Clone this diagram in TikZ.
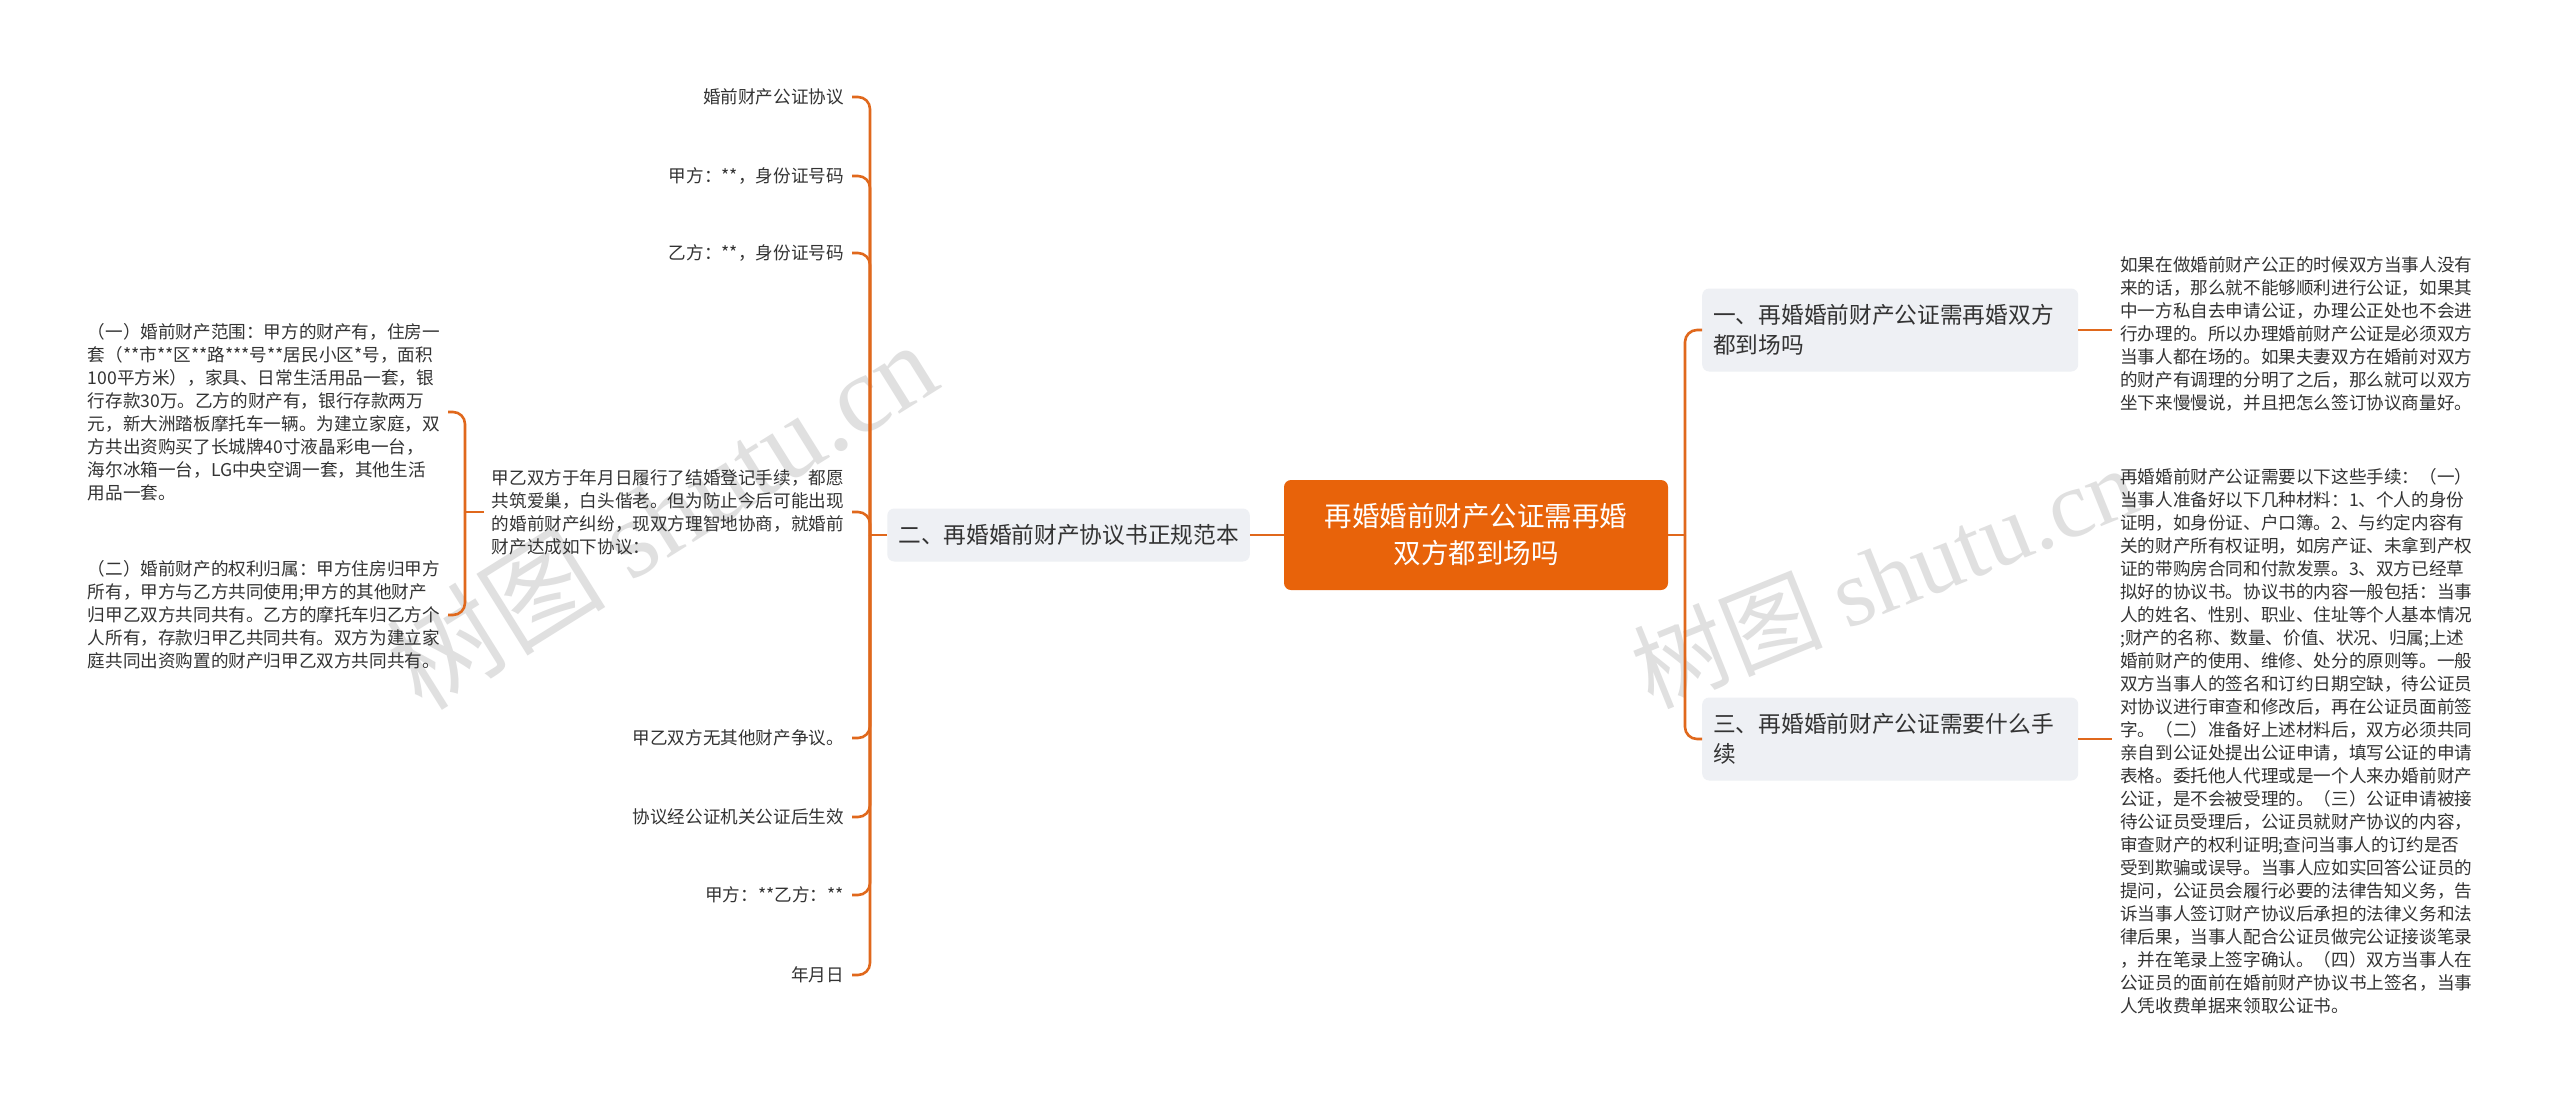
\documentclass[tikz,border=0pt]{standalone}
\usepackage{fontspec}
\setmainfont{Noto Sans CJK SC}
\newfontfamily\wmfont{Liberation Serif}
\definecolor{orng}{HTML}{E8630A}
\definecolor{lnc}{HTML}{E0681C}
\definecolor{boxg}{HTML}{EEF0F4}
\definecolor{txt}{HTML}{333333}
\begin{document}
\begin{tikzpicture}[x=1pt,y=-1pt,
 conn/.style={draw=lnc, line width=2.6pt, rounded corners=12pt},
 rootbox/.style={fill=orng, rounded corners=7pt, text=white, align=center, font=\fontsize{27.5}{37}\selectfont, minimum width=384pt, minimum height=110pt, inner sep=0pt},
 branchbox/.style={fill=boxg, rounded corners=7pt, text=txt, align=left, font=\fontsize{22.7}{30}\selectfont, inner xsep=11pt, inner ysep=0pt},
 leaf/.style={text=txt, font=\fontsize{17.6}{23}\selectfont, inner xsep=8pt, inner ysep=2pt},
 wm/.style={text=black!22, opacity=0.55, font=\fontsize{95}{95}\selectfont},
]
\fill[white] (0,0) rectangle (2560,1098);
\useasboundingbox (0,0) rectangle (2560,1098);

% watermarks
\node[wm, rotate=32, font=\fontsize{110}{110}\selectfont] (wm1) at (661,514) {树图 {\wmfont shutu.cn}};
\node[wm, rotate=22] (wm2) at (1884,576) {树图 {\wmfont shutu.cn}};

% root
\node[rootbox] (root) at (1476,535) {再婚婚前财产公证需再婚\\双方都到场吗};

% right branches
\node[branchbox, anchor=west, minimum height=83pt, text width=354pt] (b1) at (1702,330) {一、再婚婚前财产公证需再婚双方\\都到场吗};
\node[branchbox, anchor=west, minimum height=83pt, text width=354pt] (b3) at (1702,739) {三、再婚婚前财产公证需要什么手\\续};

\node[leaf, anchor=west, align=left] (r1) at (2112,334) {如果在做婚前财产公正的时候双方当事人没有\\来的话，那么就不能够顺利进行公证，如果其\\中一方私自去申请公证，办理公正处也不会进\\行办理的。所以办理婚前财产公证是必须双方\\当事人都在场的。如果夫妻双方在婚前对双方\\的财产有调理的分明了之后，那么就可以双方\\坐下来慢慢说，并且把怎么签订协议商量好。};

\node[leaf, anchor=west, align=left] (r3) at (2112,741) {再婚婚前财产公证需要以下这些手续：（一）\\当事人准备好以下几种材料：1、个人的身份\\证明，如身份证、户口簿。2、与约定内容有\\关的财产所有权证明，如房产证、未拿到产权\\证的带购房合同和付款发票。3、双方已经草\\拟好的协议书。协议书的内容一般包括：当事\\人的姓名、性别、职业、住址等个人基本情况\\;财产的名称、数量、价值、状况、归属;上述\\婚前财产的使用、维修、处分的原则等。一般\\双方当事人的签名和订约日期空缺，待公证员\\对协议进行审查和修改后，再在公证员面前签\\字。（二）准备好上述材料后，双方必须共同\\亲自到公证处提出公证申请，填写公证的申请\\表格。委托他人代理或是一个人来办婚前财产\\公证，是不会被受理的。（三）公证申请被接\\待公证员受理后，公证员就财产协议的内容，\\审查财产的权利证明;查问当事人的订约是否\\受到欺骗或误导。当事人应如实回答公证员的\\提问，公证员会履行必要的法律告知义务，告\\诉当事人签订财产协议后承担的法律义务和法\\律后果，当事人配合公证员做完公证接谈笔录\\，并在笔录上签字确认。（四）双方当事人在\\公证员的面前在婚前财产协议书上签名，当事\\人凭收费单据来领取公证书。};

\coordinate (sR) at (1685,535);
\draw[conn] (root.east) -- (sR);
\draw[conn] (sR) |- (b1.west);
\draw[conn] (sR) |- (b3.west);
\draw[conn] (b1.east) -- (b1.east -| r1.west);
\draw[conn] (b3.east) -- (b3.east -| r3.west);

% left branch
\node[branchbox, anchor=east, minimum height=53pt] (b2) at (1250,535) {二、再婚婚前财产协议书正规范本};
\draw[conn] (root.west) -- (b2.east);
\coordinate (sL) at (870,535);
\draw[conn] (b2.west) -- (sL);

\node[leaf, anchor=east, align=right] (l1) at (852,97) {婚前财产公证协议};
\node[leaf, anchor=east, align=right] (l2) at (852,176) {甲方：**，身份证号码};
\node[leaf, anchor=east, align=right] (l3) at (852,253) {乙方：**，身份证号码};
\node[leaf, anchor=east, align=left] (l4) at (852,512) {甲乙双方于年月日履行了结婚登记手续，都愿\\共筑爱巢，白头偕老。但为防止今后可能出现\\的婚前财产纠纷，现双方理智地协商，就婚前\\财产达成如下协议：};
\node[leaf, anchor=east, align=right] (l5) at (852,738) {甲乙双方无其他财产争议。};
\node[leaf, anchor=east, align=right] (l6) at (852,817) {协议经公证机关公证后生效};
\node[leaf, anchor=east, align=right] (l7) at (852,895) {甲方：**乙方：**};
\node[leaf, anchor=east, align=right] (l8) at (852,975) {年月日};

\foreach \n in {l1,l2,l3,l4,l5,l6,l7,l8} {
  \draw[conn] (sL) |- (\n.east);
}

\node[leaf, anchor=east, align=left] (p1) at (448,412) {（一）婚前财产范围：甲方的财产有，住房一\\套（**市**区**路***号**居民小区*号，面积\\100平方米），家具、日常生活用品一套，银\\行存款30万。乙方的财产有，银行存款两万\\元，新大洲踏板摩托车一辆。为建立家庭，双\\方共出资购买了长城牌40寸液晶彩电一台，\\海尔冰箱一台，LG中央空调一套，其他生活\\用品一套。};
\node[leaf, anchor=east, align=left] (p2) at (448,615) {（二）婚前财产的权利归属：甲方住房归甲方\\所有，甲方与乙方共同使用;甲方的其他财产\\归甲乙双方共同共有。乙方的摩托车归乙方个\\人所有，存款归甲乙共同共有。双方为建立家\\庭共同出资购置的财产归甲乙双方共同共有。};

\coordinate (sP) at (465,512);
\draw[conn] (l4.west) -- (sP);
\draw[conn] (sP) |- (p1.east);
\draw[conn] (sP) |- (p2.east);
\end{tikzpicture}
\end{document}
